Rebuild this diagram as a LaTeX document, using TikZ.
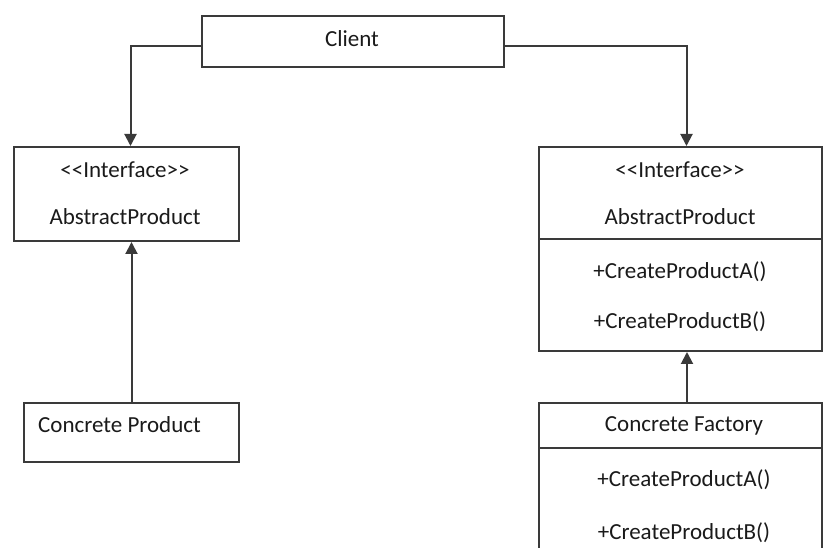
\documentclass[tikz,border=0pt]{standalone}
\usepackage{fontspec}
\setmainfont{Carlito}
\usetikzlibrary{arrows.meta, positioning}
\definecolor{linegray}{HTML}{3A3A3A}
\definecolor{textgray}{HTML}{1A1A1A}
\newcommand{\stereo}[1]{<\kern0pt<#1>\kern0pt>}

\begin{document}
\begin{tikzpicture}[x=1pt, y=-1pt,
        box/.style={draw=linegray, line width=2pt, anchor=north west, inner sep=0pt,
            minimum width=#1},
        label/.style={text=textgray, font=\fontsize{23}{27}\selectfont, inner sep=0pt},
        arr/.style={draw=linegray, line width=2pt, -{Triangle[width=12pt, length=12pt]}},
        divider/.style={draw=linegray, line width=2pt},
        ]

        \clip (0,0) rectangle (823,548);

        % classes
        \node[box=302pt, minimum height=51pt] (client) at (201,15) {};
        \node[box=225pt, minimum height=94pt] (absL) at (13,146) {};
        \node[box=283pt, minimum height=204pt] (absR) at (538,146) {};
        \node[box=215pt, minimum height=59pt] (prod) at (23,402) {};
        \node[box=283pt, minimum height=170pt] (factory) at (538,402) {};

        % compartments
        \draw[divider] ([yshift=-93pt]absR.north west) -- ([yshift=-93pt]absR.north east);
        \draw[divider] ([yshift=-46pt]factory.north west) -- ([yshift=-46pt]factory.north east);

        % texts
        \node[label] (clientT) at (352,39) {Client};
        \node[label] (ifaceL) at (125,170) {\stereo{Interface}};
        \node[label] (nameL) at (125,217) {AbstractProduct};
        \node[label] (ifaceR) at (680,170) {\stereo{Interface}};
        \node[label] (nameR) at (680,217) {AbstractProduct};
        \node[label] (opAR) at (680,272) {+CreateProductA()};
        \node[label] (opBR) at (680,322) {+CreateProductB()};
        \node[label, anchor=west] (prodT) at (38,425) {Concrete Product};
        \node[label] (factT) at (684,426) {Concrete Factory};
        \node[label] (opAF) at (684,480) {+CreateProductA()};
        \node[label] (opBF) at (684,533) {+CreateProductB()};

        % connectors
        \draw[arr] ([yshift=-4.5pt]client.west) -| ([xshift=4pt]absL.north);
        \draw[arr] ([yshift=-4.5pt]client.east) -| ([xshift=6pt]absR.north);
        \draw[arr] (prod.north) -- (prod.north |- absL.south);
        \draw[arr] ([xshift=6.5pt]factory.north) -- ([xshift=6.5pt]factory.north |- absR.south);

\end{tikzpicture}
\end{document}
